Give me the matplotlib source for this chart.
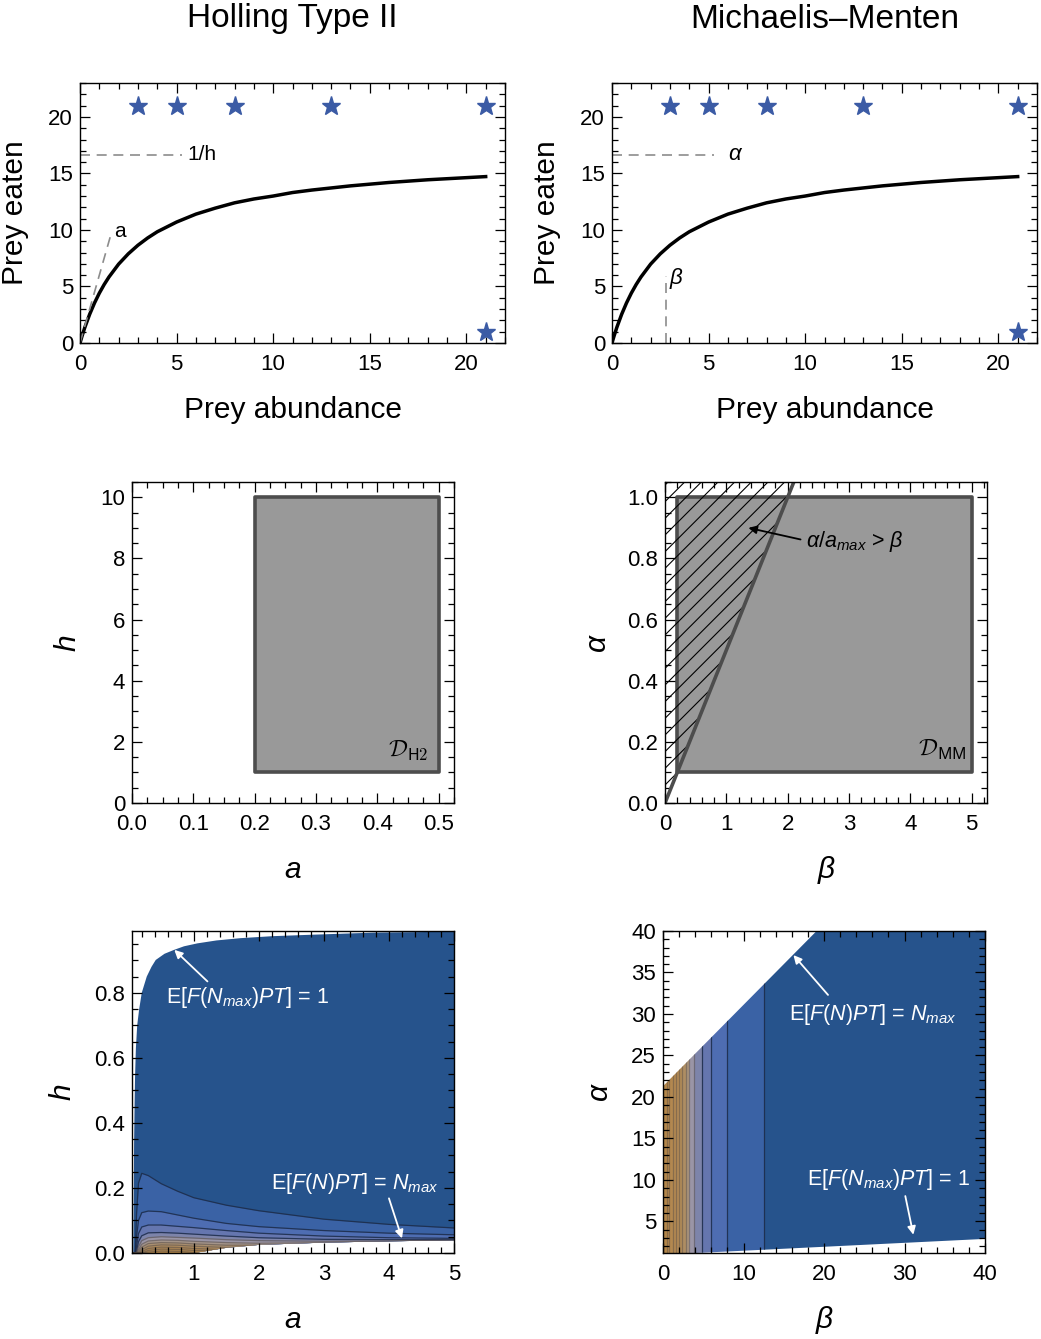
import numpy as np
import matplotlib
matplotlib.use('Agg')
import matplotlib.pyplot as plt
from matplotlib.patches import Polygon
from matplotlib.ticker import MultipleLocator
from matplotlib.colors import LinearSegmentedColormap

plt.rcParams['font.family'] = ['Liberation Sans', 'DejaVu Sans']
plt.rcParams['mathtext.fontset'] = 'custom'
plt.rcParams['mathtext.rm'] = 'Liberation Sans'
plt.rcParams['mathtext.it'] = 'Liberation Sans:italic'
plt.rcParams['mathtext.bf'] = 'Liberation Sans:bold'
plt.rcParams['hatch.linewidth'] = 0.8

# ---- top row: functional response
prey_n = [0, 0.1, 0.25, 0.5, 0.75, 1, 1.25, 1.5, 2, 2.5, 3, 3.5, 4, 5, 6, 7, 8, 9,
          10, 11, 12, 14, 16, 18, 21]
prey_eaten = [0, 0.58, 1.38, 2.54, 3.54, 4.41, 5.17, 5.84, 6.98, 7.89, 8.65, 9.29,
              9.84, 10.7, 11.4, 11.93, 12.4, 12.74, 13.0, 13.31, 13.53, 13.9, 14.2,
              14.44, 14.72]
star_x = [3, 5, 8, 13, 21, 21]
star_y = [21, 21, 21, 21, 21, 1]
satur_x = [0, 5.3]
satur_y = [16.67, 16.67]
slope_x = [0, 1.6]
slope_y = [0, 9.6]
halfsat_x = [2.78, 2.78]
halfsat_y = [0, 5.9]

# ---- middle row: parameter domains
h2_a = [0.2, 0.5]
h2_h = [1, 10]
mm_beta = [0.2, 5]
mm_alpha = [0.1, 1.0]
bound_beta = [0, 2.1]
bound_alpha = [0, 1.05]
hatch_beta = [0, 2.1, 0]
hatch_alpha = [0, 1.05, 1.05]

# ---- bottom-left: Holling contour map (curves)
up_a = [0.07, 0.072, 0.077, 0.082, 0.09, 0.097, 0.11, 0.13, 0.159, 0.2, 0.277, 0.35,
        0.415, 0.55, 0.697, 0.85, 1.056, 1.35, 1.72, 2.2, 2.74, 3.77, 5.0]
up_h = [0.0, 0.03, 0.18, 0.337, 0.46, 0.543, 0.63, 0.70, 0.748, 0.80, 0.85, 0.88,
        0.901, 0.92, 0.932, 0.943, 0.952, 0.961, 0.968, 0.974, 0.978, 0.985, 0.988]
low_a = [1.0, 1.5, 2.0, 3.0, 4.0, 5.0]
low_h = [0.0, 0.016, 0.025, 0.032, 0.036, 0.039]
hol_a = [0.05, 0.1, 0.12, 0.15, 0.2, 0.3, 0.5, 0.75, 1.0, 1.5, 2.0, 3.0, 4.0, 5.0]
hol_contours = [
    [0, 0, 0.12, 0.215, 0.245, 0.238, 0.213, 0.19, 0.17, 0.147, 0.13, 0.104, 0.088, 0.077],
    [0, 0, 0.05, 0.10, 0.124, 0.129, 0.127, 0.117, 0.107, 0.091, 0.081, 0.069, 0.061, 0.056],
    [0, 0, 0.02, 0.06, 0.08, 0.086, 0.086, 0.082, 0.078, 0.069, 0.061, 0.052, 0.047, 0.045],
    [0, 0, 0.005, 0.035, 0.053, 0.062, 0.063, 0.061, 0.058, 0.052, 0.047, 0.042, 0.041, 0.041],
    [0, 0, 0, 0.02, 0.038, 0.047, 0.05, 0.048, 0.046, 0.041, 0.038, 0.036, 0.037, 0.039],
    [0, 0, 0, 0.01, 0.027, 0.037, 0.04, 0.039, 0.036, 0.032, 0.03, 0.032, 0.035, 0.038],
    [0, 0, 0, 0.004, 0.018, 0.029, 0.032, 0.031, 0.028, 0.024, 0.024, 0.03, 0.034, 0.037],
    [0, 0, 0, 0, 0.01, 0.021, 0.025, 0.024, 0.021, 0.017, 0.02, 0.028, 0.033, 0.036],
    [0, 0, 0, 0, 0.004, 0.014, 0.018, 0.017, 0.014, 0.01, 0.015, 0.025, 0.03, 0.034],
    [0, 0, 0, 0, 0, 0.008, 0.012, 0.011, 0.008, 0.005, 0.01, 0.02, 0.025, 0.03],
    [0, 0, 0, 0, 0, 0.003, 0.006, 0.005, 0.002, 0, 0, 0, 0, 0],
]

# ---- bottom-right: Michaelis-Menten contour map
mm_low_beta = [0, 40]
mm_low_alpha = [1.0, 2.9]
mm_up_beta = [0, 40]
mm_up_alpha = [21.3, 60.5]
mm_levels = [0.45, 0.8, 1.2, 1.6, 2.0, 2.4, 2.8, 3.27, 3.9, 4.8, 6.0, 8.0, 12.5]

cmap = LinearSegmentedColormap.from_list('mma', [
    (0.0, '#26538C'), (0.08, '#3A62A5'), (0.25, '#4E6DB2'), (0.4, '#6576AF'),
    (0.52, '#7D84AA'), (0.64, '#9A95A6'), (0.76, '#A8937C'), (0.88, '#B08A58'),
    (1.0, '#B4874A')])
hol_pos = [0, 0.08, 0.25, 0.4, 0.52, 0.64, 0.72, 0.8, 0.86, 0.9, 0.95, 1.0]
mm_pos = [1.0, 0.98, 0.96, 0.94, 0.91, 0.88, 0.84, 0.76, 0.64, 0.52, 0.4, 0.25, 0.08, 0.0]
line_dark = '#1d2b48'
line_warm = '#5e5146'

W, H = 1041, 1339
fig = plt.figure(figsize=(W / 100, H / 100), dpi=100)


def add_axes(l, t, r, b):
    return fig.add_axes([l / W, 1 - b / H, (r - l) / W, (b - t) / H])


def frame(ax, xmaj, xmin, ymaj, ymin):
    ax.xaxis.set_major_locator(MultipleLocator(xmaj))
    ax.xaxis.set_minor_locator(MultipleLocator(xmin))
    ax.yaxis.set_major_locator(MultipleLocator(ymaj))
    ax.yaxis.set_minor_locator(MultipleLocator(ymin))
    ax.tick_params(which='both', direction='in', top=True, right=True,
                   labelsize=16, width=0.9, color='black')
    ax.tick_params(which='major', length=7)
    ax.tick_params(which='minor', length=4)
    ax.tick_params(axis='x', pad=8)
    ax.tick_params(axis='y', pad=5)
    for s in ax.spines.values():
        s.set_linewidth(1.0)


def labels(ax, xl, yl, xy, yx, size, italic):
    st = 'italic' if italic else 'normal'
    ax.set_xlabel(xl, fontsize=size, fontstyle=st)
    ax.set_ylabel(yl, fontsize=size, fontstyle=st)
    ax.xaxis.set_label_coords(0.5, xy)
    ax.yaxis.set_label_coords(yx, 0.5)
    ax.xaxis.label.set_va('center')
    ax.yaxis.label.set_va('center')


def arrow(ax, head, tail, color):
    ax.annotate('', xy=head, xytext=tail, zorder=3,
                arrowprops=dict(arrowstyle='-|>', color=color, lw=1.3,
                                mutation_scale=12, shrinkA=0, shrinkB=0))


fig.text(292 / W, 1 - 19 / H, 'Holling Type II', ha='center', va='center', fontsize=24)
fig.text(825 / W, 1 - 19 / H, 'Michaelis\u2013Menten', ha='center', va='center', fontsize=24)

# top row
ax1 = add_axes(80, 83, 505, 343)
ax2 = add_axes(612, 83, 1037, 343)
for ax in (ax1, ax2):
    ax.plot(prey_n, prey_eaten, color='black', lw=2.5)
    ax.plot(star_x, star_y, ls='none', marker='*', ms=14, color='#3B5BA5', mec='#3B5BA5')
    ax.set_xlim(0, 22)
    ax.set_ylim(0, 23)
    frame(ax, 5, 1, 5, 1)
    labels(ax, 'Prey abundance', 'Prey eaten', -0.258, -0.153, 21.5, False)

dash = dict(color='#8c8c8c', lw=1.2, ls=(0, (6, 4)))
ax1.plot(satur_x, satur_y, **dash)
ax1.plot(slope_x, slope_y, **dash)
ax1.text(5.55, 16.67, '1/h', fontsize=15, va='center')
ax1.text(1.75, 9.9, 'a', fontsize=15, va='center')
ax2.plot(satur_x, satur_y, **dash)
ax2.plot(halfsat_x, halfsat_y, **dash)
ax2.text(6.0, 16.67, '\u03b1', fontsize=16, fontstyle='italic', va='center')
ax2.text(3.0, 5.7, '\u03b2', fontsize=16, fontstyle='italic', va='center')

# middle row
ax3 = add_axes(132, 482, 454, 803)
rect = Polygon(np.column_stack([[h2_a[0], h2_a[1], h2_a[1], h2_a[0]],
                                [h2_h[0], h2_h[0], h2_h[1], h2_h[1]]]),
               closed=True, facecolor='#999999', edgecolor='#4d4d4d', lw=2.6, joinstyle='round')
ax3.add_patch(rect)
ax3.text(0.484, 1.7, r'$\mathcal{D}_{\mathsf{H2}}$', math_fontfamily='cm',
         fontsize=17, ha='right', va='center')
ax3.set_xlim(0, 0.525)
ax3.set_ylim(0, 10.5)
frame(ax3, 0.1, 0.025, 2, 0.5)
labels(ax3, 'a', 'h', -0.209, -0.199, 21.5, True)

ax4 = add_axes(665, 482, 987, 803)
rect = Polygon(np.column_stack([[mm_beta[0], mm_beta[1], mm_beta[1], mm_beta[0]],
                                [mm_alpha[0], mm_alpha[0], mm_alpha[1], mm_alpha[1]]]),
               closed=True, facecolor='#999999', edgecolor='#4d4d4d', lw=2.6, joinstyle='round')
ax4.add_patch(rect)
ax4.add_patch(Polygon(np.column_stack([hatch_beta, hatch_alpha]), closed=True,
                      facecolor='none', edgecolor='black', hatch='//', lw=0))
ax4.plot(bound_beta, bound_alpha, color='#4d4d4d', lw=2.6, solid_capstyle='round')
arrow(ax4, (1.36, 0.90), (2.21, 0.862), 'black')
ax4.text(2.3, 0.855, r'$\alpha/a_{max}$ > $\beta$', fontsize=15.5, va='center', ha='left')
ax4.text(4.92, 0.174, r'$\mathcal{D}_{\mathsf{MM}}$', math_fontfamily='cm',
         fontsize=17, ha='right', va='center')
ax4.set_xlim(0, 5.25)
ax4.set_ylim(0, 1.05)
frame(ax4, 1, 0.2, 0.2, 0.05)
labels(ax4, '\u03b2', '\u03b1', -0.209, -0.211, 21.5, True)

# bottom-left contour map
ax5 = add_axes(132, 931, 454, 1253)
valid = np.column_stack([up_a + low_a[::-1], up_h + low_h[::-1]])
region = Polygon(valid, closed=True, facecolor=cmap(0.0), edgecolor='none', zorder=1)
ax5.add_patch(region)
for k, c in enumerate(hol_contours):
    f = ax5.fill_between(hol_a, 0, c, color=cmap(hol_pos[k + 1]), lw=0, zorder=1.1)
    f.set_clip_path(region)
for k, c in enumerate(hol_contours):
    col, al = (line_dark, 0.85) if k < 4 else (line_warm, 0.6)
    ln, = ax5.plot(hol_a, c, color=col, lw=0.9, alpha=al, zorder=1.2)
    ln.set_clip_path(region)
ax5.set_xlim(0.05, 5)
ax5.set_ylim(0, 0.99)
frame(ax5, 1, 0.2, 0.2, 0.05)
labels(ax5, 'a', 'h', -0.208, -0.217, 21.5, True)
arrow(ax5, (0.70, 0.932), (1.21, 0.835), 'white')
ax5.text(0.57, 0.785, r'E[$F$($N_{max}$)$PT$] = 1', color='white', fontsize=15.5,
         va='center', ha='left', zorder=3)
arrow(ax5, (4.2, 0.045), (4.0, 0.168), 'white')
ax5.text(2.18, 0.215, r'E[$F$($N$)$PT$] = $N_{max}$', color='white', fontsize=15.5,
         va='center', ha='left', zorder=3)

# bottom-right contour map
ax6 = add_axes(663, 931, 985, 1253)
valid = np.column_stack([mm_low_beta + mm_up_beta[::-1], mm_low_alpha + mm_up_alpha[::-1]])
region = Polygon(valid, closed=True, facecolor='none', edgecolor='none', zorder=1)
ax6.add_patch(region)
edges = [0] + mm_levels + [40]
for k in range(len(edges) - 1):
    sp = ax6.axvspan(edges[k], edges[k + 1], color=cmap(mm_pos[k]), lw=0, zorder=1.1)
    sp.set_clip_path(region)
for k, b in enumerate(mm_levels):
    col, al = (line_dark, 0.85) if b > 4 else (line_warm, 0.5)
    vl = ax6.vlines(b, 0, 61, colors=col, lw=0.9, alpha=al, zorder=1.2)
    vl.set_clip_path(region)
ax6.set_xlim(0, 40)
ax6.set_ylim(1.2, 40)
frame(ax6, 10, 2, 5, 1)
labels(ax6, '\u03b2', '\u03b1', -0.208, -0.20, 21.5, True)
arrow(ax6, (16.2, 37.1), (20.5, 32.3), 'white')
ax6.text(15.65, 29.9, r'E[$F$($N$)$PT$] = $N_{max}$', color='white', fontsize=15.5,
         va='center', ha='left', zorder=3)
arrow(ax6, (31.1, 3.4), (30.1, 8.06), 'white')
ax6.text(17.9, 10.1, r'E[$F$($N_{max}$)$PT$] = 1', color='white', fontsize=15.5,
         va='center', ha='left', zorder=3)

fig.savefig('out.png', dpi=100)
